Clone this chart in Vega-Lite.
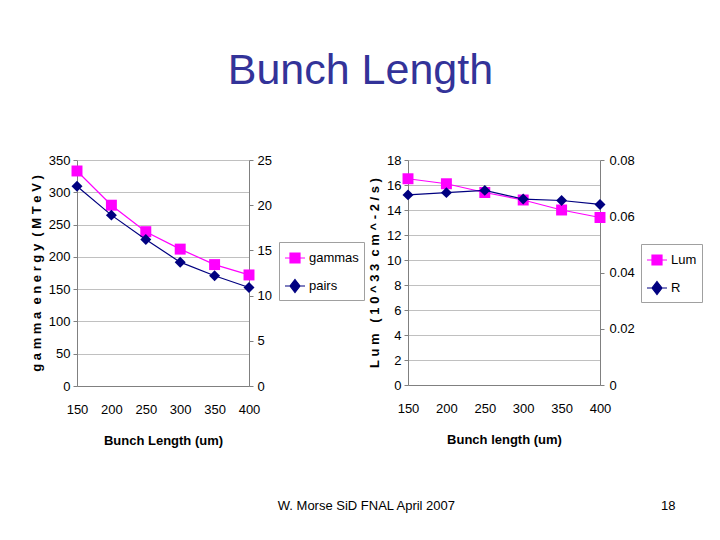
{
  "$schema": "https://vega.github.io/schema/vega-lite/v6.json",
  "background": "white",
  "padding": {"left": 30, "top": 50, "right": 0, "bottom": 0},
  "title": {"text": "Bunch Length", "fontSize": 43, "font": "Liberation Sans", "fontWeight": "normal", "color": "#333399", "anchor": "middle", "offset": 61, "dx": -6},
  "datasets": {
    "bunch": [
      {"len": 150, "gamma": 333, "pairs": 22.1, "lum": 16.5, "R": 0.0676},
      {"len": 200, "gamma": 280, "pairs": 18.9, "lum": 16.1, "R": 0.0684},
      {"len": 250, "gamma": 239, "pairs": 16.2, "lum": 15.4, "R": 0.0692},
      {"len": 300, "gamma": 212, "pairs": 13.7, "lum": 14.8, "R": 0.0661},
      {"len": 350, "gamma": 188, "pairs": 12.2, "lum": 14.0, "R": 0.0656},
      {"len": 400, "gamma": 172, "pairs": 10.9, "lum": 13.4, "R": 0.0642}
    ]
  },
  "vconcat": [
    {
      "title": {"text": "W. Morse SiD FNAL April 2007", "orient": "bottom", "fontSize": 13, "font": "Liberation Sans", "fontWeight": "normal", "color": "#000000", "anchor": "middle", "offset": -13},
      "spacing": 3,
      "resolve": {"scale": {"color": "independent"}},
      "hconcat": [
        {
          "width": 172,
          "height": 226,
          "data": {"name": "bunch"},
          "resolve": {"scale": {"y": "independent"}},
          "encoding": {
            "x": {"field": "len", "type": "quantitative", "scale": {"domain": [150, 400], "nice": false},
                  "axis": {"values": [150, 200, 250, 300, 350, 400], "title": "Bunch Length (um)", "ticks": false, "labelPadding": 17, "titlePadding": 18, "grid": false, "labelOverlap": false, "labelFlush": false}}
          },
          "layer": [
            {
              "mark": {"type": "line", "strokeWidth": 1.2, "point": {"shape": "square", "size": 120, "filled": true}},
              "encoding": {
                "y": {"field": "gamma", "type": "quantitative", "scale": {"domain": [0, 350], "nice": false},
                      "axis": {"orient": "left", "values": [0, 50, 100, 150, 200, 250, 300, 350], "grid": true, "title": "g a m m a\u00a0 e n e r g y\u00a0 ( M T e V )", "tickSize": 4, "labelPadding": 3, "titlePadding": 5}},
                "color": {"datum": "gammas", "type": "nominal", "scale": {"domain": ["gammas", "pairs"], "range": ["#FF00FF", "#000080"]},
                          "legend": {"title": null, "orient": "none", "legendX": 202, "legendY": 82, "symbolSize": 400,
                                     "symbolType": "M-1,0H1", "strokeColor": "#a0a0a0", "padding": 5, "rowPadding": 9, "labelFontSize": 13, "labelOffset": 3,
                                     "encode": {"symbols": {"update": {
                                        "shape": {"signal": "datum.value === 'gammas' ? 'M-1,0H1M-0.5,-0.5H0.5V0.5H-0.5Z' : 'M-1,0H1M0,-0.65L0.5,0L0,0.65L-0.5,0Z'"},
                                        "fill": {"signal": "datum.value === 'gammas' ? '#FF00FF' : '#000080'"},
                                        "stroke": {"signal": "datum.value === 'gammas' ? '#FF00FF' : '#000080'"},
                                        "strokeWidth": {"value": 1.2}, "opacity": {"value": 1}}}}}}
              }
            },
            {
              "mark": {"type": "line", "strokeWidth": 1.2, "point": {"shape": "diamond", "size": 120, "filled": true}},
              "encoding": {
                "y": {"field": "pairs", "type": "quantitative", "scale": {"domain": [0, 25], "nice": false},
                      "axis": {"orient": "right", "values": [0, 5, 10, 15, 20, 25], "grid": false, "title": null, "tickSize": 4, "labelPadding": 4}},
                "color": {"datum": "pairs", "type": "nominal"}
              }
            }
          ]
        },
        {
          "width": 192,
          "height": 225,
          "data": {"name": "bunch"},
          "resolve": {"scale": {"y": "independent"}},
          "title": {"text": "18", "orient": "bottom", "anchor": "end", "fontSize": 13, "font": "Liberation Sans", "fontWeight": "normal", "color": "#000000", "offset": 54, "dx": -27},
          "encoding": {
            "x": {"field": "len", "type": "quantitative", "scale": {"domain": [150, 400], "nice": false},
                  "axis": {"values": [150, 200, 250, 300, 350, 400], "title": "Bunch length (um)", "ticks": false, "labelPadding": 17, "titlePadding": 18, "grid": false, "labelOverlap": false, "labelFlush": false}}
          },
          "layer": [
            {
              "mark": {"type": "line", "strokeWidth": 1.2, "point": {"shape": "square", "size": 120, "filled": true}},
              "encoding": {
                "y": {"field": "lum", "type": "quantitative", "scale": {"domain": [0, 18], "nice": false},
                      "axis": {"orient": "left", "values": [0, 2, 4, 6, 8, 10, 12, 14, 16, 18], "grid": true, "title": "L u m\u00a0\u00a0 ( 1 0 ^ 3 3\u00a0 c m ^ - 2 / s )", "tickSize": 4, "labelPadding": 3, "titlePadding": 5}},
                "color": {"datum": "Lum", "type": "nominal", "scale": {"domain": ["Lum", "R"], "range": ["#FF00FF", "#000080"]},
                          "legend": {"title": null, "orient": "none", "legendX": 233, "legendY": 84, "symbolSize": 400,
                                     "symbolType": "M-1,0H1", "strokeColor": "#a0a0a0", "padding": 5, "rowPadding": 9, "labelFontSize": 13, "labelOffset": 3,
                                     "encode": {"symbols": {"update": {
                                        "shape": {"signal": "datum.value === 'Lum' ? 'M-1,0H1M-0.5,-0.5H0.5V0.5H-0.5Z' : 'M-1,0H1M0,-0.65L0.5,0L0,0.65L-0.5,0Z'"},
                                        "fill": {"signal": "datum.value === 'Lum' ? '#FF00FF' : '#000080'"},
                                        "stroke": {"signal": "datum.value === 'Lum' ? '#FF00FF' : '#000080'"},
                                        "strokeWidth": {"value": 1.2}, "opacity": {"value": 1}}}}}}
              }
            },
            {
              "mark": {"type": "line", "strokeWidth": 1.2, "point": {"shape": "diamond", "size": 120, "filled": true}},
              "encoding": {
                "y": {"field": "R", "type": "quantitative", "scale": {"domain": [0, 0.08], "nice": false},
                      "axis": {"orient": "right", "values": [0, 0.02, 0.04, 0.06, 0.08], "format": ".2~f", "grid": false, "title": null, "tickSize": 4, "labelPadding": 5}},
                "color": {"datum": "R", "type": "nominal"}
              }
            }
          ]
        }
      ]
    }
  ],
  "config": {
    "view": {"stroke": null},
    "axis": {
      "labelFont": "Liberation Sans",
      "labelFontSize": 13,
      "labelColor": "#000000",
      "titleFont": "Liberation Sans",
      "titleFontSize": 13,
      "titleFontWeight": "bold",
      "titleColor": "#000000",
      "domainColor": "#808080",
      "tickColor": "#808080",
      "gridColor": "#c0c0c0",
      "gridOpacity": 1
    },
    "axisX": {"labelOverlap": false, "labelFlush": false},
    "legend": {
      "labelFont": "Liberation Sans",
      "labelColor": "#000000",
      "fillColor": "#ffffff"
    }
  }
}
